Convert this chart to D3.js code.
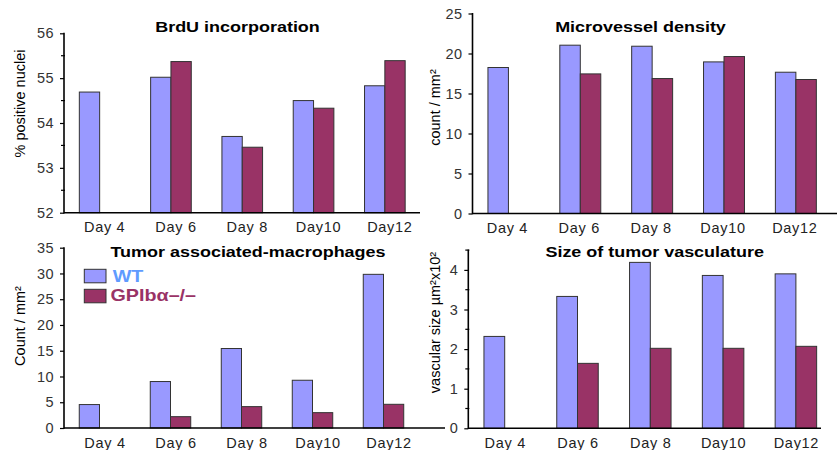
<!DOCTYPE html>
<html><head><meta charset="utf-8">
<script src="https://cdnjs.cloudflare.com/ajax/libs/d3/7.8.5/d3.min.js"></script>
<style>
html,body{margin:0;padding:0;background:#fff;}
svg{display:block;font-family:"Liberation Sans",Arial,sans-serif;}
</style></head>
<body><svg id="c" width="837" height="450"></svg>
<script>
// ---- data ----
const categories = ["Day 4", "Day 6", "Day 8", "Day10", "Day12"];
const seriesNames = ["WT", "GPIb\u03b1\u2013/\u2013"];

const brduWT = [54.69, 55.02, 53.70, 54.50, 54.83];
const brduKO = [null, 55.37, 53.46, 54.33, 55.39];
const brduTicks = [52, 53, 54, 55, 56];

const mvdWT = [18.25, 21.04, 20.91, 18.95, 17.66];
const mvdKO = [null, 17.45, 16.87, 19.62, 16.75];
const mvdTicks = [0, 5, 10, 15, 20, 25];

const tamWT = [4.55, 9.02, 15.43, 9.27, 29.83];
const tamKO = [null, 2.20, 4.15, 2.98, 4.60];
const tamTicks = [0, 5, 10, 15, 20, 25, 30, 35];

const vasWT = [2.32, 3.33, 4.19, 3.86, 3.90];
const vasKO = [null, 1.64, 2.02, 2.02, 2.07];
const vasTicks = [0, 1, 2, 3, 4];

// ---- layout ----
const colors = ["#9999ff", "#993366"];
const svg = d3.select("#c");

const panels = [
  {title: "BrdU incorporation", ylabel: "% positive nuclei", wt: brduWT, ko: brduKO,
   domain: [52, 56], ticks: brduTicks, minorStep: 0.5,
   x0: 64, x1: 420.5, axisEnd: 420, yTop: 33.3, yBot: 212.7,
   titleX: 237.5, titleY: 31.7, ylabX: 25, ylabY: 103.5, labelDx: 5},
  {title: "Microvessel density", ylabel: "count / mm\u00b2", wt: mvdWT, ko: mvdKO,
   domain: [0, 25], ticks: mvdTicks, minorStep: null,
   x0: 472.5, x1: 831.8, axisEnd: 837, yTop: 13.5, yBot: 213.5,
   titleX: 640.5, titleY: 32.3, ylabX: 440, ylabY: 107.5, labelDx: -1},
  {title: "Tumor associated-macrophages", ylabel: "Count / mm\u00b2", wt: tamWT, ko: tamKO,
   domain: [0, 35], ticks: tamTicks, minorStep: null,
   x0: 64, x1: 419, axisEnd: 445, yTop: 247.7, yBot: 428,
   titleX: 248, titleY: 256.7, ylabX: 25, ylabY: 326, labelDx: 5.5},
  {title: "Size of tumor vasculature", ylabel: "vascular size \u00b5m\u00b2x10\u00b2", wt: vasWT, ko: vasKO,
   domain: [0, 4.5], ticks: vasTicks, minorStep: 0.5,
   x0: 468.3, x1: 832.3, axisEnd: 821, yTop: 250.1, yBot: 428.3,
   titleX: 654.7, titleY: 257.3, ylabX: 440, ylabY: 322.5, labelDx: 0.5}
];

panels.forEach(p => {
  const g = svg.append("g");
  const x = d3.scaleBand().domain(categories).range([p.x0, p.x1]).paddingInner(0.43).paddingOuter(0.215);
  const xs = d3.scaleBand().domain([0, 1]).range([0, x.bandwidth()]);
  const y = d3.scaleLinear().domain(p.domain).range([p.yBot, p.yTop]);

  // bars
  [p.wt, p.ko].forEach((vals, si) => {
    g.append("g").selectAll("rect")
      .data(categories.map((c, i) => ({c, v: vals[i]})).filter(d => d.v != null))
      .join("rect")
      .attr("x", d => x(d.c) + xs(si))
      .attr("width", xs.bandwidth())
      .attr("y", d => y(d.v))
      .attr("height", d => y(p.domain[0]) - y(d.v))
      .attr("fill", colors[si])
      .attr("stroke", "#333")
      .attr("stroke-width", 1);
  });

  // minor ticks
  if (p.minorStep) {
    const minor = d3.range(p.domain[0], p.domain[1] + 1e-9, p.minorStep).filter(v => !p.ticks.includes(v));
    g.append("g").selectAll("line").data(minor).join("line")
      .attr("x1", p.x0 - 3).attr("x2", p.x0 + 1)
      .attr("y1", d => y(d)).attr("y2", d => y(d))
      .attr("stroke", "#000").attr("stroke-width", 1.2);
  }

  // y axis
  const ya = g.append("g").attr("transform", `translate(${p.x0},0)`)
    .call(d3.axisLeft(y).tickValues(p.ticks).tickSize(4).tickPadding(6).tickFormat(d3.format("d")));
  ya.select(".domain").remove();
  ya.selectAll(".tick line").attr("stroke", "#000").attr("stroke-width", 1.2);
  ya.selectAll(".tick text").attr("font-size", 14.5).attr("fill", "#333")
    .attr("font-family", "'Liberation Sans',Arial,sans-serif").attr("letter-spacing", 0.4);
  g.append("line").attr("x1", p.x0).attr("x2", p.x0)
    .attr("y1", p.yTop - 0.5).attr("y2", p.yBot + 0.7)
    .attr("stroke", "#000").attr("stroke-width", 1.6);

  // x axis
  const xa = g.append("g").attr("transform", `translate(0,${p.yBot})`)
    .call(d3.axisBottom(x).tickSize(0).tickPadding(0));
  xa.select(".domain").remove();
  xa.selectAll(".tick text").attr("font-size", 14.5).attr("fill", "#222")
    .attr("font-family", "'Liberation Sans',Arial,sans-serif").attr("letter-spacing", 0.7)
    .attr("dy", 19.7).attr("dx", p.labelDx);
  g.append("line").attr("x1", p.x0).attr("x2", p.axisEnd)
    .attr("y1", p.yBot).attr("y2", p.yBot)
    .attr("stroke", "#000").attr("stroke-width", 1.6);

  // title
  g.append("text")
    .attr("transform", `translate(${p.titleX},${p.titleY}) scale(1.16,1)`)
    .attr("text-anchor", "middle").attr("font-weight", "bold").attr("font-size", 15.5)
    .attr("fill", "#000").text(p.title);

  // y label
  g.append("text")
    .attr("transform", `translate(${p.ylabX},${p.ylabY}) rotate(-90)`)
    .attr("text-anchor", "middle").attr("font-size", 14.5).attr("fill", "#000")
    .text(p.ylabel);
});

// legend (in Tumor associated-macrophages panel)
const legendTextColors = ["#5f9bff", "#993366"];
const lg = svg.append("g");
const legendRows = [{y: 269.3, ty: 282.3, tx: 112.7}, {y: 289.3, ty: 301.3, tx: 110.5}];
seriesNames.forEach((name, i) => {
  lg.append("rect").attr("x", 84.3).attr("y", legendRows[i].y).attr("width", 21.7).attr("height", 13.5)
    .attr("fill", colors[i]).attr("stroke", "#333").attr("stroke-width", 1);
  lg.append("text")
    .attr("transform", `translate(${legendRows[i].tx},${legendRows[i].ty}) scale(1.16,1)`)
    .attr("font-weight", "bold").attr("font-size", 17).attr("fill", legendTextColors[i])
    .text(name);
});
</script></body></html>
